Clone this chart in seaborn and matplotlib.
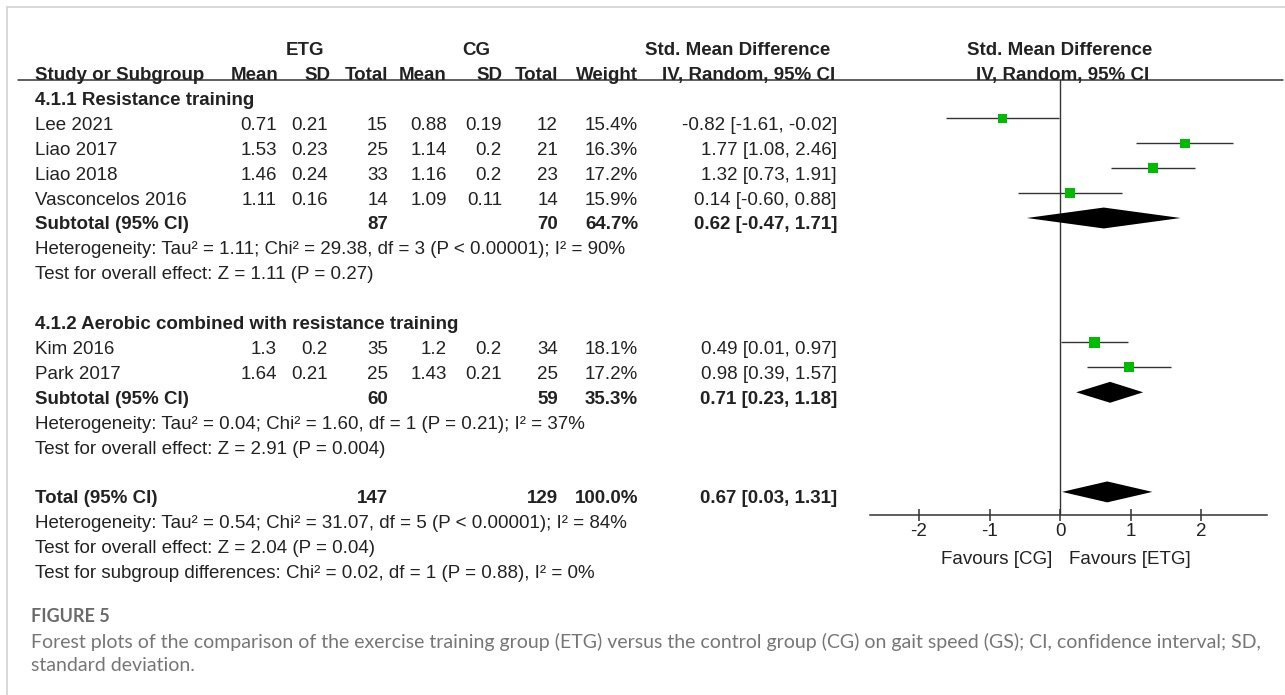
import matplotlib
matplotlib.use("Agg")
import matplotlib.pyplot as plt
import matplotlib.transforms as mtransforms
from matplotlib.lines import Line2D
import pandas as pd
import seaborn as sns

# ---------------- data ----------------
study = ["Lee 2021", "Liao 2017", "Liao 2018", "Vasconcelos 2016", "Kim 2016", "Park 2017"]
etg_mean = [0.71, 1.53, 1.46, 1.11, 1.3, 1.64]
etg_sd = [0.21, 0.23, 0.24, 0.16, 0.2, 0.21]
etg_n = [15, 25, 33, 14, 35, 25]
cg_mean = [0.88, 1.14, 1.16, 1.09, 1.2, 1.43]
cg_sd = [0.19, 0.2, 0.2, 0.11, 0.2, 0.21]
cg_n = [12, 21, 23, 14, 34, 25]
weight = [15.4, 16.3, 17.2, 15.9, 18.1, 17.2]
smd = [-0.82, 1.77, 1.32, 0.14, 0.49, 0.98]
ci_lo = [-1.61, 1.08, 0.73, -0.60, 0.01, 0.39]
ci_hi = [-0.02, 2.46, 1.91, 0.88, 0.97, 1.57]

subgroups = ["4.1.1 Resistance training", "4.1.2 Aerobic combined with resistance training"]
pooled_label = ["Subtotal (95% CI)", "Subtotal (95% CI)", "Total (95% CI)"]
pooled_etg_n = [87, 60, 147]
pooled_cg_n = [70, 59, 129]
pooled_weight = [64.7, 35.3, 100.0]
pooled_smd = [0.62, 0.71, 0.67]
pooled_lo = [-0.47, 0.23, 0.03]
pooled_hi = [1.71, 1.18, 1.31]
heterogeneity = [
    "Heterogeneity: Tau\u00b2 = 1.11; Chi\u00b2 = 29.38, df = 3 (P < 0.00001); I\u00b2 = 90%",
    "Heterogeneity: Tau\u00b2 = 0.04; Chi\u00b2 = 1.60, df = 1 (P = 0.21); I\u00b2 = 37%",
    "Heterogeneity: Tau\u00b2 = 0.54; Chi\u00b2 = 31.07, df = 5 (P < 0.00001); I\u00b2 = 84%",
]
overall_effect = [
    "Test for overall effect: Z = 1.11 (P = 0.27)",
    "Test for overall effect: Z = 2.91 (P = 0.004)",
    "Test for overall effect: Z = 2.04 (P = 0.04)",
]
subgroup_diff = "Test for subgroup differences: Chi\u00b2 = 0.02, df = 1 (P = 0.88), I\u00b2 = 0%"
x_ticks = [-2, -1, 0, 1, 2]
favours = ["Favours [CG]", "Favours [ETG]"]
fig_label = "FIGURE 5"
caption = [
    "Forest plots of the comparison of the exercise training group (ETG) versus the control group (CG) on gait speed (GS); CI, confidence interval; SD,",
    "standard deviation.",
]

# ---------------- layout ----------------
W, H = 1285, 695
sns.set_theme(style="white")
plt.rcParams['font.family'] = ['Liberation Sans', 'DejaVu Sans']
TXT = '#222222'
FS = 13.5

fig = plt.figure(figsize=(W / 100, H / 100), dpi=100)
fig.patch.set_facecolor('white')


def fx(px):
    return px / W


def fy(py):
    return 1 - py / H


AX_L, AX_R, AX_T, AX_B = 870, 1267, 80, 515
ZERO_PX, PX_PER_UNIT = 1060, 70.5
ROW0, PITCH = 93.5, 24.9
ax = fig.add_axes([fx(AX_L), fy(AX_B), (AX_R - AX_L) / W, (AX_B - AX_T) / H])

study_rows = [1, 2, 3, 4, 10, 11]
pooled_rows = [5, 12, 16]

df = pd.DataFrame({"smd": smd, "row": study_rows, "weight": weight})

# CI lines
ax.hlines(study_rows, ci_lo, ci_hi, color='#333333', lw=1.0, zorder=2)
# study squares
sns.scatterplot(data=df, x="smd", y="row", size="weight", sizes=(44, 54), marker='s',
                color='#00bb00', edgecolor='none', linewidth=0, legend=False, ax=ax, zorder=3)
# diamonds
h = 0.42
for r, est, lo, hi in zip(pooled_rows, pooled_smd, pooled_lo, pooled_hi):
    ax.fill([lo, est, hi, est], [r, r - h, r, r + h], color='black', lw=0, zorder=3)

ax.axvline(0, color='#333333', lw=1.0, zorder=1)
ax.set_xlim((AX_L - ZERO_PX) / PX_PER_UNIT, (AX_R - ZERO_PX) / PX_PER_UNIT)
ax.set_ylim((AX_B - ROW0) / PITCH, (AX_T - ROW0) / PITCH)
ax.set_xticks(x_ticks)
ax.set_xticklabels([str(t) for t in x_ticks])
ax.set_yticks([])
ax.set_xlabel("")
ax.set_ylabel("")
for s in ["top", "left", "right"]:
    ax.spines[s].set_visible(False)
ax.spines["bottom"].set_color('#333333')
ax.spines["bottom"].set_linewidth(1.1)
ax.tick_params(axis='x', direction='inout', length=9, width=1.1, color='#333333',
               pad=1, labelsize=FS, labelcolor=TXT, bottom=True)
ax.patch.set_alpha(0)

# favours labels
tr_fav = mtransforms.blended_transform_factory(ax.transData, fig.transFigure)
ax.text(-8 / PX_PER_UNIT, fy(557), favours[0], transform=tr_fav, ha='right',
        va='center_baseline', fontsize=FS, color=TXT, clip_on=False)
ax.text(9 / PX_PER_UNIT, fy(557), favours[1], transform=tr_fav, ha='left',
        va='center_baseline', fontsize=FS, color=TXT, clip_on=False)

# ---------------- table text ----------------
tr = mtransforms.blended_transform_factory(fig.transFigure, ax.transData)
SHIFT = 0.2


def put(xpx, row, s, ha='left', bold=False, size=FS):
    fig.text(fx(xpx), row + SHIFT, s, transform=tr, ha=ha, va='center_baseline',
             fontsize=size, color=TXT, fontweight='bold' if bold else 'normal', clip_on=False)


LBL = 35
C_ME, C_SE, C_NE, C_MC, C_SC, C_NC, C_W, C_SMD = 277, 328, 388, 447, 502, 558, 638, 837

# headers
put(305, -2, "ETG", ha='center', bold=True)
put(476, -2, "CG", ha='center', bold=True)
put(830, -2, "Std. Mean Difference", ha='right', bold=True)
put(1060, -2, "Std. Mean Difference", ha='center', bold=True)
put(LBL, -1, "Study or Subgroup", bold=True)
put(C_ME + 2, -1, "Mean", ha='right', bold=True)
put(C_SE + 2, -1, "SD", ha='right', bold=True)
put(C_NE, -1, "Total", ha='right', bold=True)
put(C_MC, -1, "Mean", ha='right', bold=True)
put(C_SC, -1, "SD", ha='right', bold=True)
put(C_NC, -1, "Total", ha='right', bold=True)
put(C_W, -1, "Weight", ha='right', bold=True)
put(835, -1, "IV, Random, 95% CI", ha='right', bold=True)
put(1063, -1, "IV, Random, 95% CI", ha='center', bold=True)

fig.add_artist(Line2D([fx(18), fx(1283)], [fy(80), fy(80)], color='#333333', lw=1.1))

# subgroup headings
put(LBL, 0, subgroups[0], bold=True)
put(LBL, 9, subgroups[1], bold=True)

# studies
for i, r in enumerate(study_rows):
    put(LBL, r, study[i])
    put(C_ME, r, str(etg_mean[i]), ha='right')
    put(C_SE, r, str(etg_sd[i]), ha='right')
    put(C_NE, r, str(etg_n[i]), ha='right')
    put(C_MC, r, str(cg_mean[i]), ha='right')
    put(C_SC, r, str(cg_sd[i]), ha='right')
    put(C_NC, r, str(cg_n[i]), ha='right')
    put(C_W, r, f"{weight[i]:.1f}%", ha='right')
    put(C_SMD, r, f"{smd[i]:.2f} [{ci_lo[i]:.2f}, {ci_hi[i]:.2f}]", ha='right')

# pooled rows
for k, r in enumerate(pooled_rows):
    put(LBL, r, pooled_label[k], bold=True)
    put(C_NE, r, str(pooled_etg_n[k]), ha='right', bold=True)
    put(C_NC, r, str(pooled_cg_n[k]), ha='right', bold=True)
    put(C_W, r, f"{pooled_weight[k]:.1f}%", ha='right', bold=True)
    put(C_SMD, r, f"{pooled_smd[k]:.2f} [{pooled_lo[k]:.2f}, {pooled_hi[k]:.2f}]", ha='right', bold=True)
    put(LBL, r + 1, heterogeneity[k])
    put(LBL, r + 2, overall_effect[k])
put(LBL, 19, subgroup_diff)

# ---------------- frame & caption ----------------
fig.add_artist(Line2D([fx(7), 1], [fy(7), fy(7)], color='#d6d6d6', lw=1.3))
fig.add_artist(Line2D([fx(7), fx(7)], [fy(7), 0], color='#d6d6d6', lw=1.3))

cap_font = ['Lato', 'DejaVu Sans']
t0 = fig.text(fx(31), fy(615), fig_label, fontsize=12.5, family=cap_font, fontweight='bold',
              color='#6a6a6a', va='center_baseline')
c1 = fig.text(fx(31), fy(640), caption[0], fontsize=12, family=cap_font, color='#767676',
              va='center_baseline')
fig.canvas.draw()
rend = fig.canvas.get_renderer()
wpx = c1.get_window_extent(rend).width
cs = 12 * (1255 - 31) / wpx
c1.set_fontsize(cs)
fig.text(fx(31), fy(664), caption[1], fontsize=cs, family=cap_font, color='#767676',
         va='center_baseline')
wf = t0.get_window_extent(rend).width
t0.set_fontsize(12.5 * 79 / wf)

fig.savefig("out.png", dpi=100, facecolor='white')
